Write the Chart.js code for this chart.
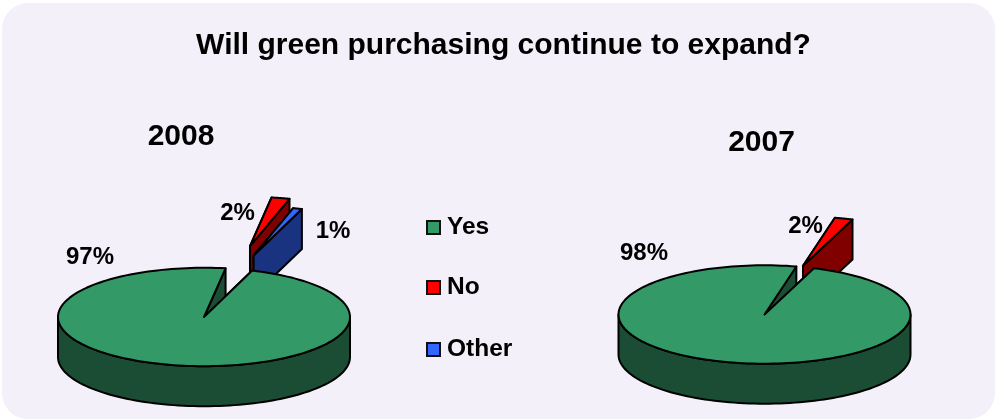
<!DOCTYPE html>
<html>
<head>
<meta charset="utf-8">
<script src="https://cdn.jsdelivr.net/npm/chart.js@4"></script>
<style>
  html, body { margin:0; padding:0; background:#fff; }
  #page { position:relative; width:997px; height:420px; overflow:hidden; font-family:"Liberation Sans", Arial, sans-serif; font-weight:bold; color:#000; }
  #panel { position:absolute; left:2px; top:3px; width:993px; height:416px; border-radius:26px; background:#F3F0F9; }
  canvas { position:absolute; left:0; top:0; }
  .t { position:absolute; white-space:nowrap; line-height:1; transform:translate(-50%,-50%); }
  .key { position:absolute; box-sizing:border-box; width:15px; height:15px; border:2px solid #111; }
</style>
</head>
<body>
<div id="page">
  <div id="panel"></div>
  <canvas id="c2008" width="997" height="420"></canvas>
  <canvas id="c2007" width="997" height="420"></canvas>
</div>
<script>
const titleText = "Will green purchasing continue to expand?";
const categories = ["Yes", "No", "Other"];
const years = ["2008", "2007"];
const values2008 = [97, 2, 1];
const values2007 = [98, 2];
const faceColors = ["#339966", "#FF0000", "#3366FF"];
const wallColors = ["#1A4D33", "#800000", "#1A3380"];

// Presentation of the two pies
const RADIUS = 146, FLATTEN = 0.337, DEPTH = 40, LINE = 2;
// How far each slice is pulled out, in radii (sideways, upward)
const explode2008 = [[0, 0], [0.315, 1.44], [0.34, 1.25]];
const explode2007 = [[0, 0], [0.264, 0.99]];

function makePie(id, values, explode, rotation, cx, cy) {
  const tilt3d = {
    id: "tilt3d",
    beforeDatasetDraw(chart, args) {
      const ctx = chart.ctx;
      const arcs = chart.getDatasetMeta(args.index).data;
      // Pulled-out slices sit behind the main slice, so it is painted last.
      const order = arcs.map((_, i) => i).slice(1).concat(0);
      for (const i of order) {
        const arc = arcs[i];
        const p = arc.getProps(["x", "y", "startAngle", "endAngle", "outerRadius"]);
        const R = p.outerRadius, s = p.startAngle, e = p.endAngle;
        const ax = p.x + explode[i][0] * R, ay = p.y - FLATTEN * explode[i][1] * R;
        const px = (a) => ax + R * Math.cos(a);
        const py = (a, z) => ay + FLATTEN * R * Math.sin(a) + z;

        const outline = () => {
          ctx.lineWidth = LINE; ctx.lineJoin = "round"; ctx.strokeStyle = "#000";
          ctx.stroke();
        };
        // cut faces
        ctx.fillStyle = wallColors[i];
        for (const a of [s, e]) {
          ctx.beginPath();
          ctx.moveTo(ax, ay);
          ctx.lineTo(px(a), py(a, 0));
          ctx.lineTo(px(a), py(a, DEPTH));
          ctx.lineTo(ax, ay + DEPTH);
          ctx.closePath();
          ctx.fill(); outline();
        }
        // outer rim, lower half of the ellipse only
        const a0 = Math.max(s, 0), a1 = Math.min(e, Math.PI);
        if (a1 > a0) {
          ctx.beginPath();
          for (let k = 0; k <= 90; k++) { const a = a0 + (a1 - a0) * k / 90; ctx.lineTo(px(a), py(a, 0)); }
          for (let k = 90; k >= 0; k--) { const a = a0 + (a1 - a0) * k / 90; ctx.lineTo(px(a), py(a, DEPTH)); }
          ctx.closePath();
          ctx.fill(); outline();
        }
        // top face: the library's own arc, squashed
        ctx.save();
        ctx.translate(ax, ay);
        ctx.scale(1, FLATTEN);
        ctx.translate(-p.x, -p.y);
        arc.draw(ctx);
        ctx.restore();
        // even outline for the top face
        ctx.beginPath();
        ctx.moveTo(ax, ay);
        for (let k = 0; k <= 180; k++) { const a = s + (e - s) * k / 180; ctx.lineTo(px(a), py(a, 0)); }
        ctx.closePath();
        outline();
      }
      return false;
    }
  };
  return new Chart(document.getElementById(id), {
    type: "pie",
    data: {
      labels: categories.slice(0, values.length),
      datasets: [{
        data: values,
        backgroundColor: faceColors.slice(0, values.length),
        borderWidth: 0,
        clip: false
      }]
    },
    options: {
      responsive: false,
      animation: false,
      radius: RADIUS,
      rotation: rotation,
      layout: { padding: { left: Math.max(0, 2 * cx - 997), right: Math.max(0, 997 - 2 * cx), top: Math.max(0, 2 * cy - 420), bottom: Math.max(0, 420 - 2 * cy) } },
      plugins: { legend: { display: false }, tooltip: { enabled: false }, title: { display: false } }
    },
    plugins: [tilt3d]
  });
}

makePie("c2008", values2008, explode2008, 19.3, 204, 317);
makePie("c2007", values2007, explode2007, 19.8, 764.5, 314.5);

// Real text: title, year headings, value labels, legend
const page = document.getElementById("page");
function text(str, x, y, size) {
  const d = document.createElement("div");
  d.className = "t"; d.textContent = str;
  d.style.left = x + "px"; d.style.top = y + "px"; d.style.fontSize = size + "px";
  page.appendChild(d);
  return d;
}
text(titleText, 503.5, 44, 30);
text(years[0], 181, 135, 30);
text(years[1], 761.5, 141, 30);
text(values2008[0] + "%", 90, 256, 24);
text(values2008[1] + "%", 237.5, 212, 24);
text(values2008[2] + "%", 333, 230, 24);
text(values2007[0] + "%", 644, 252, 24);
text(values2007[1] + "%", 805.5, 225, 24);

const legendY = [227, 287, 349.5];
categories.forEach((c, i) => {
  const k = document.createElement("div");
  k.className = "key";
  k.style.left = "426px"; k.style.top = (legendY[i] - 7.5) + "px"; k.style.background = faceColors[i];
  page.appendChild(k);
  const d = text(c, 447, legendY[i] - 1 - (i === 2 ? 0.5 : 0), 24.5);
  d.style.transform = "translate(0,-50%)";
});
</script>
</body>
</html>
